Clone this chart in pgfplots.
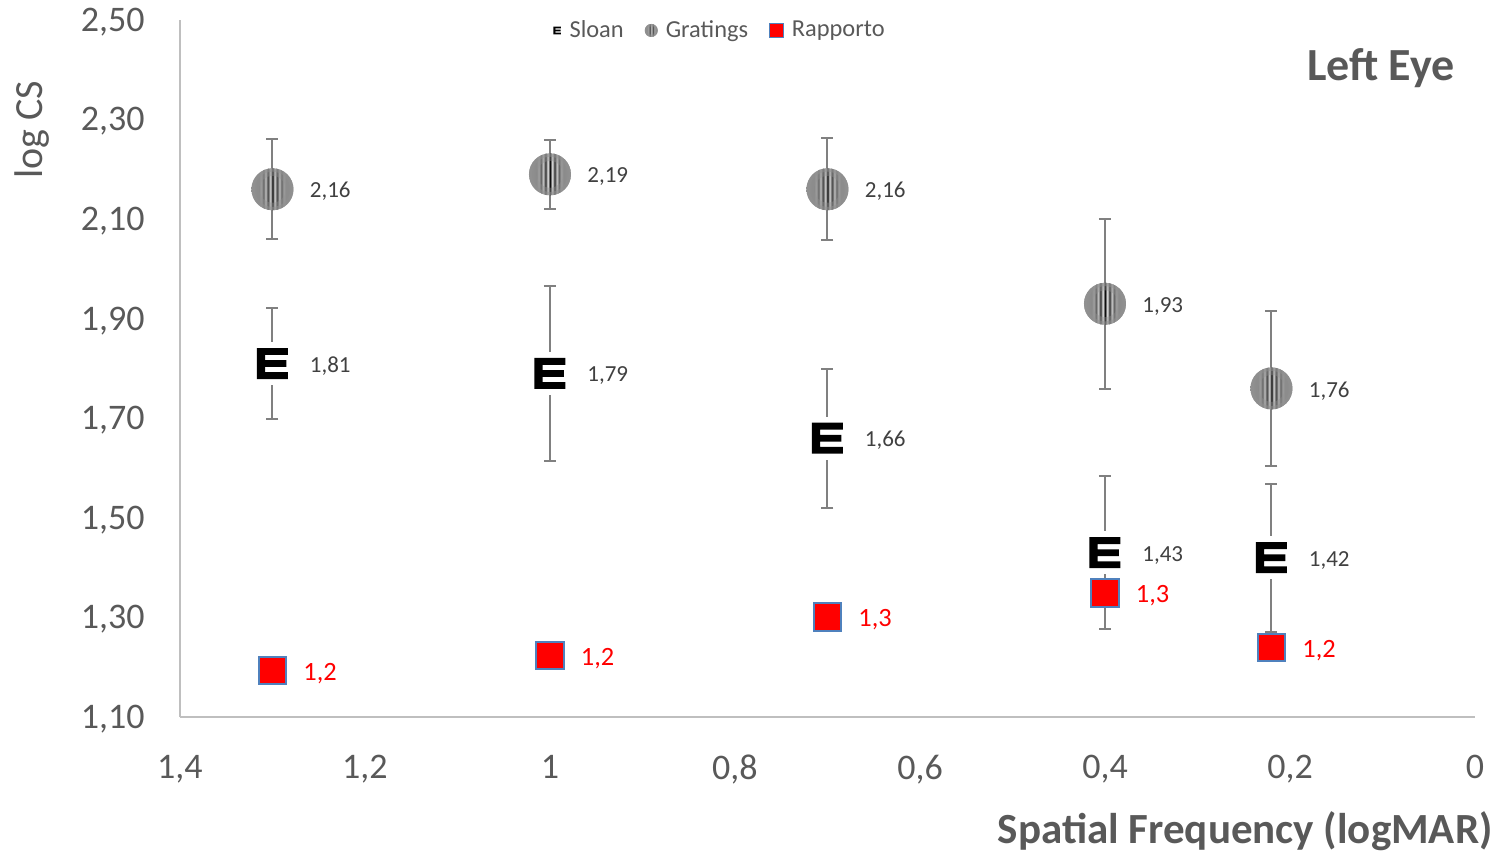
\documentclass[border=0pt]{standalone}
\usepackage{pgfplots}
\pgfplotsset{compat=1.18}
\usepackage{pgfplotstable}
\usepackage{fontspec}
\setmainfont{Carlito}

\definecolor{txtgray}{HTML}{595959}
\definecolor{lblgray}{HTML}{404040}
\definecolor{axgray}{HTML}{BFBFBF}
\definecolor{errgray}{HTML}{808080}
\definecolor{boxblue}{HTML}{4F81BD}

% Gabor-like stripe pattern for the grating markers
% (the path's bounding box maps onto 25bp..75bp of the shading)
\pgfdeclarehorizontalshading{grating}{100bp}{%
  color(0bp)=(black!43); color(25bp)=(black!43);
  color(33.95bp)=(black!47); color(36.6bp)=(black!37);
  color(39.3bp)=(black!60); color(41.95bp)=(black!22);
  color(44.65bp)=(black!82); color(47.3bp)=(black!8);
  color(50bp)=(black!95);
  color(52.7bp)=(black!8); color(55.35bp)=(black!82);
  color(58.05bp)=(black!22); color(60.7bp)=(black!60);
  color(63.4bp)=(black!37); color(66.05bp)=(black!47);
  color(75bp)=(black!43); color(100bp)=(black!43)}

\pgfdeclareplotmark{grating}{%
  \begin{pgfscope}
    \pgfpathcircle{\pgfpointorigin}{\pgfplotmarksize}%
    \pgfshadepath{grating}{0}%
    \pgfusepath{}%
  \end{pgfscope}
  \begin{pgfscope}
    \pgfseteorule
    \pgfsetfillcolor{black!43}%
    \pgfsetfillopacity{0.4}%
    \pgfpathcircle{\pgfpointorigin}{\pgfplotmarksize}%
    \pgfpathcircle{\pgfpointorigin}{0.64\pgfplotmarksize}%
    \pgfusepath{fill}%
    \pgfsetfillopacity{0.5}%
    \pgfpathcircle{\pgfpointorigin}{\pgfplotmarksize}%
    \pgfpathcircle{\pgfpointorigin}{0.84\pgfplotmarksize}%
    \pgfusepath{fill}%
  \end{pgfscope}
}

% Sloan letter E on a white backing
\pgfdeclareplotmark{sloan}{%
  \begin{pgfscope}
    \pgfsetfillcolor{white}%
    \pgfpathrectangle{\pgfpoint{-1.16\pgfplotmarksize}{-1.4\pgfplotmarksize}}{\pgfpoint{2.32\pgfplotmarksize}{2.8\pgfplotmarksize}}%
    \pgfusepath{fill}%
    \pgfsetfillcolor{black}%
    \pgfpathrectangle{\pgfpoint{-\pgfplotmarksize}{-\pgfplotmarksize}}{\pgfpoint{0.52\pgfplotmarksize}{2\pgfplotmarksize}}%
    \pgfpathrectangle{\pgfpoint{-\pgfplotmarksize}{0.56\pgfplotmarksize}}{\pgfpoint{2\pgfplotmarksize}{0.44\pgfplotmarksize}}%
    \pgfpathrectangle{\pgfpoint{-\pgfplotmarksize}{-0.22\pgfplotmarksize}}{\pgfpoint{1.9\pgfplotmarksize}{0.44\pgfplotmarksize}}%
    \pgfpathrectangle{\pgfpoint{-\pgfplotmarksize}{-\pgfplotmarksize}}{\pgfpoint{2\pgfplotmarksize}{0.44\pgfplotmarksize}}%
    \pgfusepath{fill}%
  \end{pgfscope}
}

% x = logMAR, y = log CS, e = half-length of the error bar
\pgfplotstableread{
x     y     e
1.3   1.81  0.112
1.0   1.79  0.175
0.7   1.66  0.140
0.4   1.43  0.154
0.22  1.42  0.149
}\sloantab

\pgfplotstableread{
x     y     e
1.3   2.16  0.100
1.0   2.19  0.069
0.7   2.16  0.102
0.4   1.93  0.171
0.22  1.76  0.156
}\gratingtab

% Rapporto = Gratings / Sloan
\pgfplotstableread{
x     y
1.3   1.193
1.0   1.223
0.7   1.301
0.4   1.349
0.22  1.239
}\ratiotab

\pgfplotsset{
  errbars/.style={
    only marks, mark=none, forget plot,
    error bars/.cd, y dir=both, y explicit, error mark=|,
    error bar style={draw=errgray, line width=1pt},
    error mark options={draw=errgray, line width=1pt, mark size=3pt}},
  smalllabels/.style={
    point meta=y,
    nodes near coords={\pgfmathprintnumber[fixed,fixed zerofill,precision=2,use comma]{\pgfplotspointmeta}},
    every node near coord/.append style={anchor=west, xshift=18.5pt, yshift=-1.2pt,
      inner sep=0pt, font=\fontsize{11.5}{13}\selectfont, text=lblgray}},
}

\begin{document}
\begin{tikzpicture}
\begin{axis}[
  at={(0pt,0pt)}, anchor=south west,
  scale only axis, width=647.5pt, height=348.5pt,
  x dir=reverse,
  xmin=0, xmax=1.4, ymin=1.1, ymax=2.5,
  clip=false,
  xtick={0,0.2,0.4,0.6,0.8,1,1.2,1.4},
  ytick={1.1,1.3,1.5,1.7,1.9,2.1,2.3,2.5},
  scaled ticks=false,
  /pgf/number format/assume math mode=true,
  axis x line*=bottom, axis y line*=left,
  axis line style={draw=axgray, line width=0.75pt, -},
  major tick length=0pt,
  tick label style={font=\fontsize{18}{21}\selectfont, text=txtgray, inner sep=0pt},
  xticklabel style={yshift=-19pt, /pgf/number format/use comma},
  yticklabel style={xshift=-17.5pt, yshift=-1pt, /pgf/number format/fixed,
    /pgf/number format/fixed zerofill, /pgf/number format/precision=2,
    /pgf/number format/use comma},
  xlabel={Spatial Frequency (logMAR)},
  xlabel style={at={(axis description cs:1.0139,-0.1808)}, anchor=base east,
    inner sep=0pt, font=\bfseries\fontsize{21.5}{25}\selectfont, text=txtgray},
  ylabel={log CS},
  ylabel style={at={(axis description cs:-0.1058,0.8422)}, anchor=base,
    inner sep=0pt, font=\fontsize{20}{24}\selectfont, text=txtgray},
  title={Left Eye},
  title style={at={(axis description cs:0.9846,0.8967)}, anchor=base east,
    inner sep=0pt, font=\bfseries\fontsize{23}{27}\selectfont, text=txtgray},
  legend columns=3,
  legend style={at={(axis description cs:0.4160,0.9850)}, anchor=center,
    draw=none, fill=none, inner sep=0pt,
    font=\fontsize{12.2}{14}\selectfont,
    nodes={inner sep=0pt, anchor=west, text=txtgray},
    /tikz/every odd column/.append style={column sep=4pt},
    /tikz/every even column/.append style={column sep=10.5pt}},
]

% Sloan letters
\addplot[errbars] table[x=x, y=y, y error=e] {\sloantab};
\addplot[only marks, mark=sloan, mark size=7.75pt, smalllabels,
  legend image code/.code={\pgfsetplotmarksize{1.9pt}\pgfuseplotmark{sloan}}]
  table[x=x, y=y] {\sloantab};
\addlegendentry{Sloan}

% Gratings
\addplot[errbars] table[x=x, y=y, y error=e] {\gratingtab};
\addplot[only marks, mark=grating, mark size=10.5pt, smalllabels,
  legend image code/.code={\pgfsetplotmarksize{3.25pt}\pgfuseplotmark{grating}}]
  table[x=x, y=y] {\gratingtab};
\addlegendentry{Gratings}

% Ratio
\addplot[only marks, mark=square*, mark size=6.8pt,
  mark options={fill=red, draw=boxblue, line width=1pt},
  point meta=y,
  nodes near coords={\pgfmathprintnumber[fixed,precision=1,use comma]{\pgfplotspointmeta}},
  every node near coord/.append style={anchor=west, xshift=15pt, yshift=-1.5pt,
    inner sep=0pt, font=\fontsize{13.2}{15}\selectfont, text=red},
  legend image code/.code={\draw[fill=red, draw=boxblue, line width=0.6pt]
    (-3.4pt,-3.4pt) rectangle (3.4pt,3.4pt);}]
  table[x=x, y=y] {\ratiotab};
\addlegendentry{Rapporto}

\end{axis}
\pgfresetboundingbox
\path[use as bounding box] (-90pt,-67.5pt) rectangle (663pt,358.5pt);
\end{tikzpicture}
\end{document}
